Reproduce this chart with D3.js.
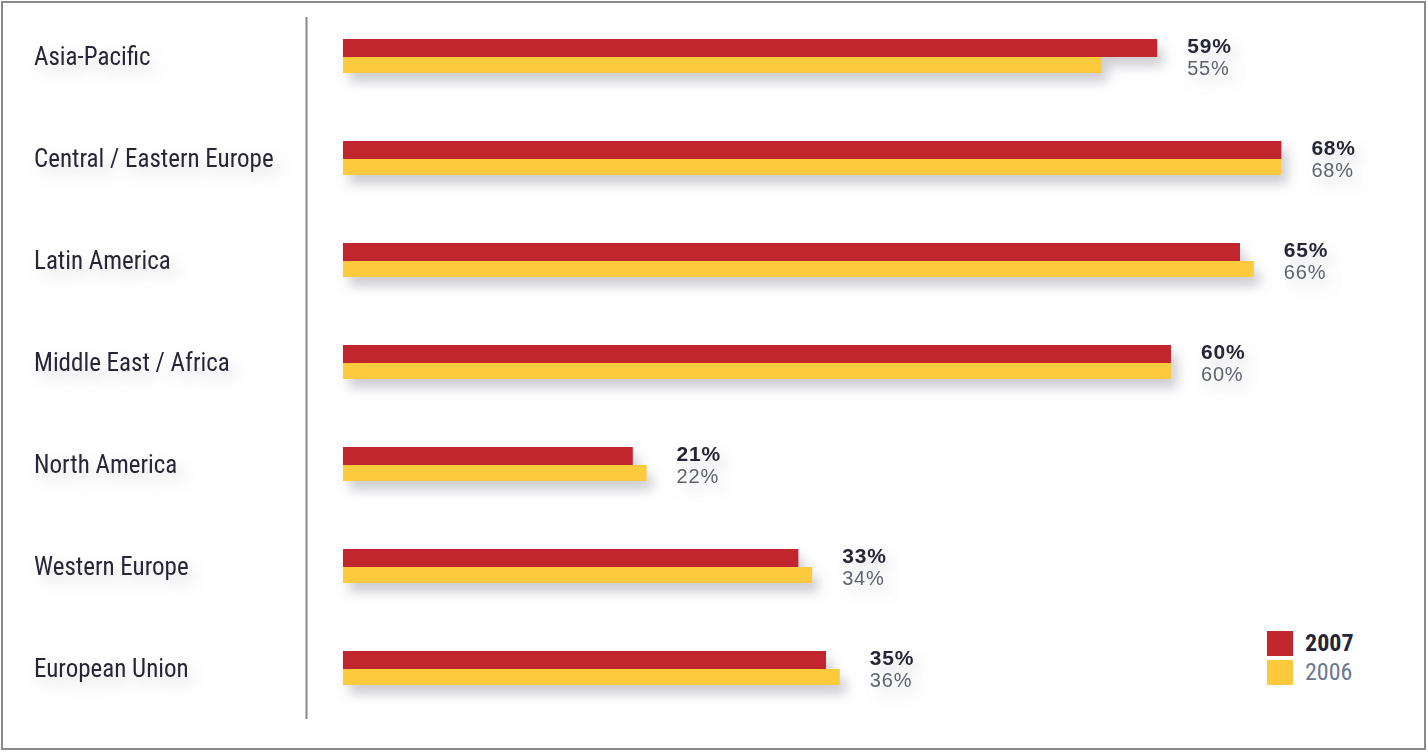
<!DOCTYPE html>
<html lang="en">
<head>
    <meta charset="UTF-8">
    <title>Regional bars 2007 vs 2006</title>
    <script src="https://d3js.org/d3.v7.min.js"></script>
    <style>
        body { margin: 0; background: #fff; }
        text { font-family: "Liberation Sans Narrow", "Roboto Condensed", "Liberation Sans", sans-serif; }
        .val { font-family: "Liberation Sans", Arial, sans-serif; letter-spacing: 0.8px; }
    </style>
</head>
<body>
    <svg id="graph" width="1428" height="752"></svg>
    <script>
        const regions = ["Asia-Pacific", "Central / Eastern Europe", "Latin America", "Middle East / Africa",
            "North America", "Western Europe", "European Union"];
        const values2007 = [59, 68, 65, 60, 21, 33, 35];
        const values2006 = [55, 68, 66, 60, 22, 34, 36];
        const years = ["2007", "2006"];

        const svg = d3.select("#graph");
        const red = "#c1272d", yellow = "#fdc93c";

        // drop shadow for bars and text
        const defs = svg.append("defs");
        const f = defs.append("filter").attr("id", "shadow")
            .attr("x", "-20%").attr("y", "-60%").attr("width", "140%").attr("height", "320%");
        f.append("feDropShadow").attr("dx", 6).attr("dy", 9).attr("stdDeviation", 6)
            .attr("flood-color", "#707080").attr("flood-opacity", 0.35);
        const ft = defs.append("filter").attr("id", "tshadow")
            .attr("x", "-20%").attr("y", "-50%").attr("width", "150%").attr("height", "250%");
        ft.append("feDropShadow").attr("dx", 6).attr("dy", 8).attr("stdDeviation", 7)
            .attr("flood-color", "#808090").attr("flood-opacity", 0.3);

        svg.append("rect").attr("x", 2).attr("y", 2).attr("width", 1423).attr("height", 747)
            .attr("fill", "none").attr("stroke", "#8a8a8a").attr("stroke-width", 2);

        const x = d3.scaleLinear().domain([0, 70]).range([343, 343 + 70 * 13.8]);
        const y = d3.scaleBand().domain(regions).range([5, 719]).paddingInner(0).paddingOuter(0);
        const redH = 18, yelH = 16;
        const rowTop = r => y(r) + y.bandwidth() / 2 - 17;

        svg.append("line").attr("x1", 306.5).attr("x2", 306.5).attr("y1", 17).attr("y2", 719)
            .attr("stroke", "#8a8a8a").attr("stroke-width", 2);

        const rows = svg.append("g").selectAll("g")
            .data(regions.map((r, i) => ({ r, v7: values2007[i], v6: values2006[i] })))
            .join("g");

        rows.append("text")
            .attr("x", 34).attr("y", d => rowTop(d.r) + 26)
            .attr("font-size", 25).attr("fill", "#252536")
            .attr("filter", "url(#tshadow)")
            .text(d => d.r);

        const bars = rows.append("g").attr("filter", "url(#shadow)");
        bars.append("rect")
            .attr("x", x(0)).attr("y", d => rowTop(d.r) + redH)
            .attr("width", d => x(d.v6) - x(0)).attr("height", yelH)
            .attr("fill", yellow);
        bars.append("rect")
            .attr("x", x(0)).attr("y", d => rowTop(d.r))
            .attr("width", d => x(d.v7) - x(0)).attr("height", redH)
            .attr("fill", red);

        const lab = rows.append("g").attr("filter", "url(#tshadow)");
        lab.append("text").attr("class", "val")
            .attr("x", d => x(Math.max(d.v7, d.v6)) + 30)
            .attr("y", d => rowTop(d.r) + 14)
            .attr("font-size", 21).attr("font-weight", "bold").attr("fill", "#252536")
            .text(d => d.v7 + "%");
        lab.append("text").attr("class", "val")
            .attr("x", d => x(Math.max(d.v7, d.v6)) + 30)
            .attr("y", d => rowTop(d.r) + 36)
            .attr("font-size", 20).attr("fill", "#5f6470")
            .text(d => d.v6 + "%");

        // legend
        const legend = svg.append("g").attr("transform", "translate(1267,631)");
        legend.selectAll("rect").data(years).join("rect")
            .attr("x", 0).attr("y", (d, i) => i * 29).attr("width", 26).attr("height", 25)
            .attr("fill", (d, i) => i === 0 ? red : yellow);
        legend.selectAll("text").data(years).join("text")
            .attr("x", 38).attr("y", (d, i) => i * 29 + 12).attr("dy", "0.35em")
            .attr("font-size", 24)
            .attr("font-weight", (d, i) => i === 0 ? "bold" : "normal")
            .attr("fill", (d, i) => i === 0 ? "#252536" : "#6a7890")
            .text(d => d);
    </script>
</body>
</html>
